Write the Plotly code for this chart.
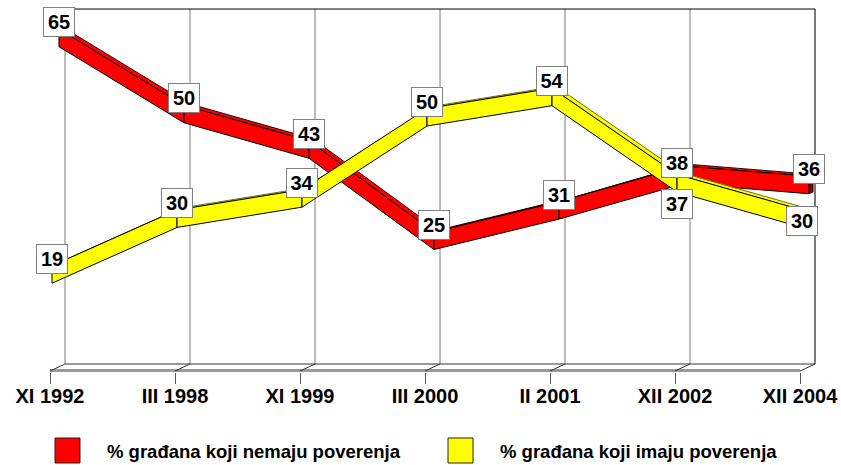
import plotly.graph_objects as go

categories = ["XI 1992", "III 1998", "XI 1999", "III 2000", "II 2001", "XII 2002", "XII 2004"]
nemaju = [65, 50, 43, 25, 31, 38, 36]
imaju = [19, 30, 34, 50, 54, 37, 30]
series_names = ["% građana koji nemaju poverenja", "% građana koji imaju poverenja"]

FONT = "Liberation Sans, Arial, sans-serif"

# fake 3d projection: pixels per category / per percent, wall depth offset
PX_X = 125.0
PX_V = 5.071
WALL_DX, WALL_DY = 15, 7
V_TOP = 70
RIB_DEPTH = 4      # px depth of the ribbon top face
RIB_BELOW = 9.5    # px of the front face under the value point
RIB_ABOVE = 8.0    # px of the front face over the value point


def back(px):
	# depth in px -> offset in (category, value) units
	return px / PX_X, px * WALL_DY / WALL_DX / PX_V


def ribbon(vals, depth, fill, top_edge, cap):
	dx, dv = back(depth)
	tx, tv = back(RIB_DEPTH)
	lo, hi = RIB_BELOW / PX_V, RIB_ABOVE / PX_V
	out = []
	common = dict(mode="lines", fill="toself", hoverinfo="skip", showlegend=False)
	for i in range(len(vals) - 1):
		x0, x1 = i + dx, i + 1 + dx
		y0, y1 = vals[i] + dv + hi, vals[i + 1] + dv + hi
		out.append(go.Scatter(x=[x0, x1, x1 + tx, x0 + tx, x0], y=[y0, y1, y1 + tv, y0 + tv, y0],
			fillcolor=fill, line=dict(color=top_edge, width=1), **common))
		b0, b1 = y0 - hi - lo, y1 - hi - lo
		out.append(go.Scatter(x=[x0, x1, x1, x0, x0], y=[y0, y1, b1, b0, y0],
			fillcolor=fill, line=dict(color="black", width=1), **common))
	# end cap on the right
	xe, ye = len(vals) - 1 + dx, vals[-1] + dv + hi
	be = ye - hi - lo
	out.append(go.Scatter(x=[xe, xe + tx, xe + tx, xe, xe], y=[ye, ye + tv, be + tv, be, ye],
		fillcolor=cap, line=dict(color="black", width=1), **common))
	return out


fig = go.Figure()
for t in ribbon(nemaju, 9, "#ff0000", "#300000", "#900000"):
	fig.add_trace(t)
for t in ribbon(imaju, 2, "#ffff00", "#707000", "#909000"):
	fig.add_trace(t)

# back wall + floor
n = len(categories)
bx, bv = back(WALL_DX)
shapes = []
def seg(x0, y0, x1, y1, color="#7a7a7a", width=1):
	shapes.append(dict(type="line", xref="x", yref="y", x0=x0, y0=y0, x1=x1, y1=y1,
		line=dict(color=color, width=width), layer="below"))

for i in range(n):
	seg(i + bx, bv, i + bx, V_TOP + bv, width=2 if i == n - 1 else 1)
	seg(i, 0, i + bx, bv, color="#333333")
seg(bx, V_TOP + bv, n - 1 + bx, V_TOP + bv, color="black")
seg(bx, bv, n - 1 + bx, bv, color="#333333")
seg(0, 0.2, n - 1, 0.2, color="#333333")
seg(0, -0.2, n - 1, -0.2, color="#333333")

# data labels
adjust = {(1, 5): (0, -37), (1, 6): (0, -18), (0, 5): (-7, -4)}
annotations = []
for s, (vals, depth) in enumerate([(nemaju, 9), (imaju, 2)]):
	dx, dv = back(depth)
	for i, v in enumerate(vals):
		xs, ys = adjust.get((s, i), (0, 0))
		annotations.append(dict(x=i + dx, y=v + dv, xref="x", yref="y", text="<b>%d</b>" % v,
			showarrow=False, xanchor="center", yanchor="bottom", xshift=xs, yshift=ys,
			font=dict(family=FONT, size=20, color="black"), bgcolor="white",
			bordercolor="#808080", borderwidth=1, borderpad=0, width=30, height=28))

# legend drawn by hand (big square swatches)
PLOT_H = 372
def py(p):
	return (PLOT_H - p) / PLOT_H

for name, color, sx, tx in [(series_names[0], "#ff0000", 55, 105), (series_names[1], "#ffff00", 448, 498)]:
	shapes.append(dict(type="rect", xref="paper", yref="paper", x0=sx / 841, x1=(sx + 25) / 841,
		y0=py(463), y1=py(438), fillcolor=color, line=dict(color="#222222", width=1)))
	annotations.append(dict(x=tx / 841, y=py(451), xref="paper", yref="paper", text="<b>%s</b>" % name,
		showarrow=False, xanchor="left", yanchor="middle",
		font=dict(family=FONT, size=18.5, color="black")))

vmax = 371 / PX_V
fig.update_layout(
	width=841, height=465,
	margin=dict(l=0, r=0, t=0, b=465 - PLOT_H),
	plot_bgcolor="white", paper_bgcolor="white",
	showlegend=False,
	xaxis=dict(range=[-50 / PX_X, (841 - 50) / PX_X], tickvals=list(range(n)), ticktext=["<b>%s</b>" % c for c in categories],
		ticks="outside", ticklen=11, tickcolor="#555555", tickwidth=1, ticklabelstandoff=-5,
		showgrid=False, zeroline=False, showline=False,
		tickfont=dict(family=FONT, size=20, color="black"), fixedrange=True),
	yaxis=dict(range=[vmax - PLOT_H / PX_V, vmax], visible=False, fixedrange=True),
	shapes=shapes,
	annotations=annotations,
)

fig.write_html("out.html", config={"displayModeBar": False}, post_script="document.body.style.margin='0';")
